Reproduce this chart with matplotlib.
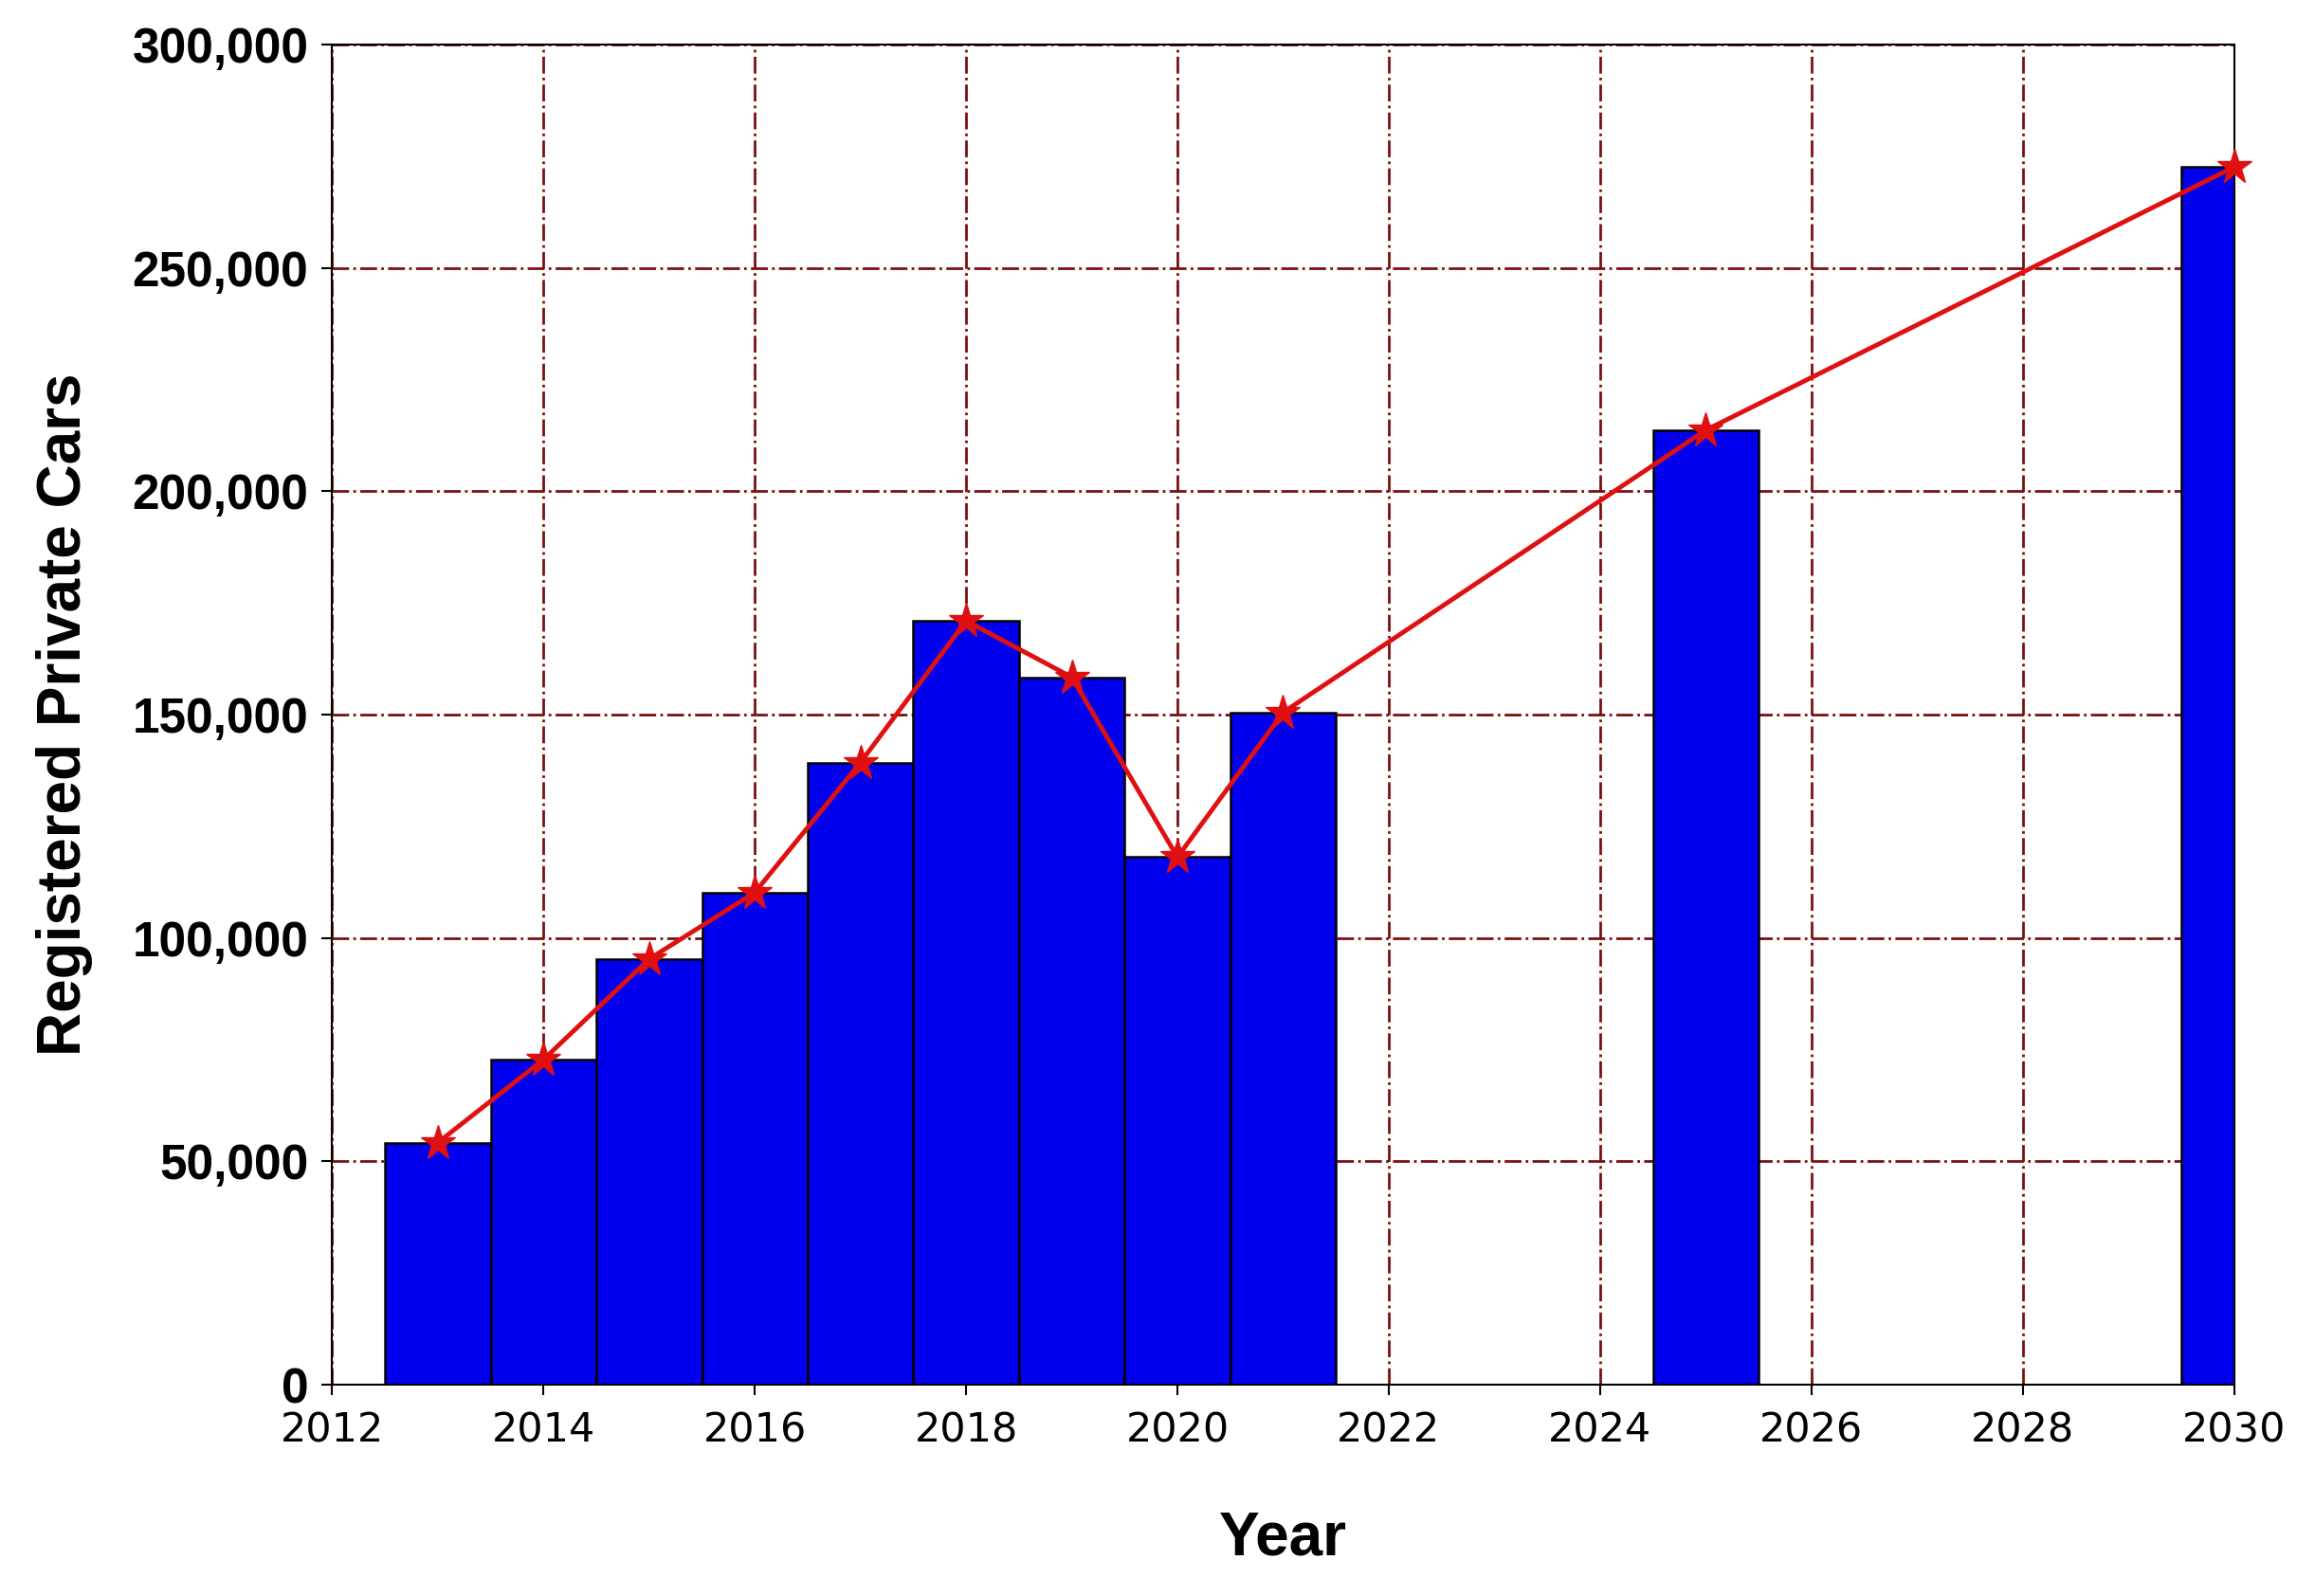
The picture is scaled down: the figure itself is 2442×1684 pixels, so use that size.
import matplotlib
matplotlib.use("Agg")
import matplotlib.pyplot as plt
from matplotlib.ticker import FuncFormatter

years = [2013, 2014, 2015, 2016, 2017, 2018, 2019, 2020, 2021, 2025, 2030]
cars = [54200, 72800, 95300, 110200, 139300, 171000, 158400, 118100, 150500, 213700, 272600]
xticks = [2012, 2014, 2016, 2018, 2020, 2022, 2024, 2026, 2028, 2030]
yticks = [0, 50000, 100000, 150000, 200000, 250000, 300000]

fig = plt.figure(figsize=(24.42, 16.84), dpi=100)
ax = fig.add_axes([0.1435, 0.1324, 0.8215, 0.8396])
ax.bar(years, cars, width=1.0, color="#0000ee", edgecolor="black", linewidth=1.8, zorder=2)
ax.plot(years, cars, color="#e01010", linewidth=3.5, marker="*", markersize=28, zorder=3, clip_on=False)
ax.set_xlim(2012, 2030)
ax.set_ylim(0, 300000)
ax.set_xticks(xticks)
ax.set_yticks(yticks)
ax.yaxis.set_major_formatter(FuncFormatter(lambda v, p: f"{int(v):,}"))
ax.grid(True, color="#7a1010", linestyle="-.", linewidth=2, zorder=1)
ax.set_axisbelow(True)
ax.tick_params(axis="x", labelsize=31, length=8, width=1.5, pad=12)
ax.tick_params(axis="y", labelsize=37, length=8, width=1.5, pad=10)
for t in ax.get_yticklabels():
    t.set_fontweight("bold"); t.set_family("Liberation Sans")
for s in ax.spines.values():
    s.set_linewidth(1.5)
ax.set_xlabel("Year", fontsize=46, fontweight="bold", family="Liberation Sans", labelpad=45)
ax.set_ylabel("Registered Private Cars", fontsize=46, fontweight="bold", family="Liberation Sans", labelpad=30)
fig.savefig("out.png", dpi=100)
